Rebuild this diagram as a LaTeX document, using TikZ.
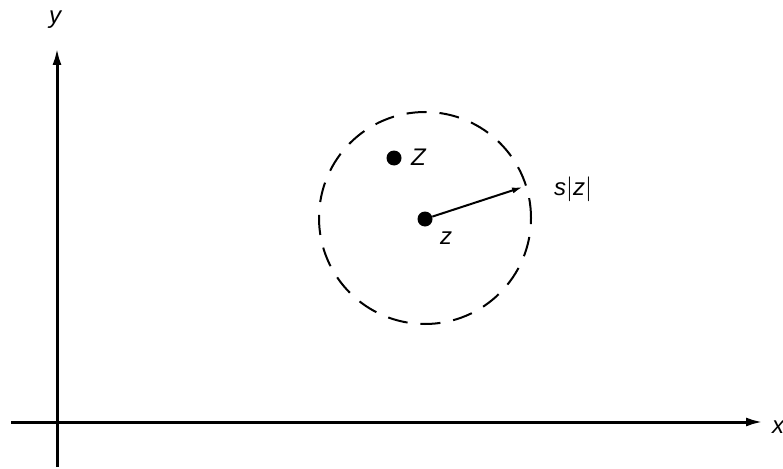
\documentclass[tikz,border=0pt]{standalone}
\usepackage{fontspec}
\setmainfont{Liberation Sans}
\usepackage{tikz}
\usetikzlibrary{arrows.meta,positioning}

\begin{document}
\begin{tikzpicture}[
        x=1pt, y=-1pt,
        font=\fontsize{24}{27}\selectfont\itshape,
        axis/.style={line width=3pt, -{Latex[length=17pt,width=9pt]}},
        dot/.style={circle, fill=black, inner sep=0pt, minimum size=15pt},
        disk/.style={line width=2pt, dash pattern=on 20pt off 13pt},
        radarr/.style={line width=2pt, -{Latex[length=11pt,width=6pt]}},
        lab/.style={inner sep=1pt}
    ]
        \useasboundingbox (0,0) rectangle (783,468);

        % axes
        \coordinate (xs) at (11,422);
        \coordinate (xe) at (763,422);
        \coordinate (ys) at (57,467);
        \coordinate (ye) at (57,48);
        \draw[axis] (xs) -- (xe);
        \draw[axis] (ys) -- (ye);
        \node[lab] (xl) at (778,427) {x};
        \node[lab] (yl) at (55,20) {y};

        % neighbourhood of z
        \draw[disk] (425,218) circle[radius=106pt];
        \node[dot] (z) at (425,219) {};
        \node[dot] (Z) at (394,158) {};
        \coordinate (rim) at (523,187);
        \draw[radarr] (z) -- (rim);
        \node[lab, anchor=west] (Zl) at (410,157) {Z};
        \node[lab] (zl) at (446,238) {z};
        \node[lab, anchor=west] (rl) at (553,189) {s$|$z$|$};
    \end{tikzpicture}
\end{document}
